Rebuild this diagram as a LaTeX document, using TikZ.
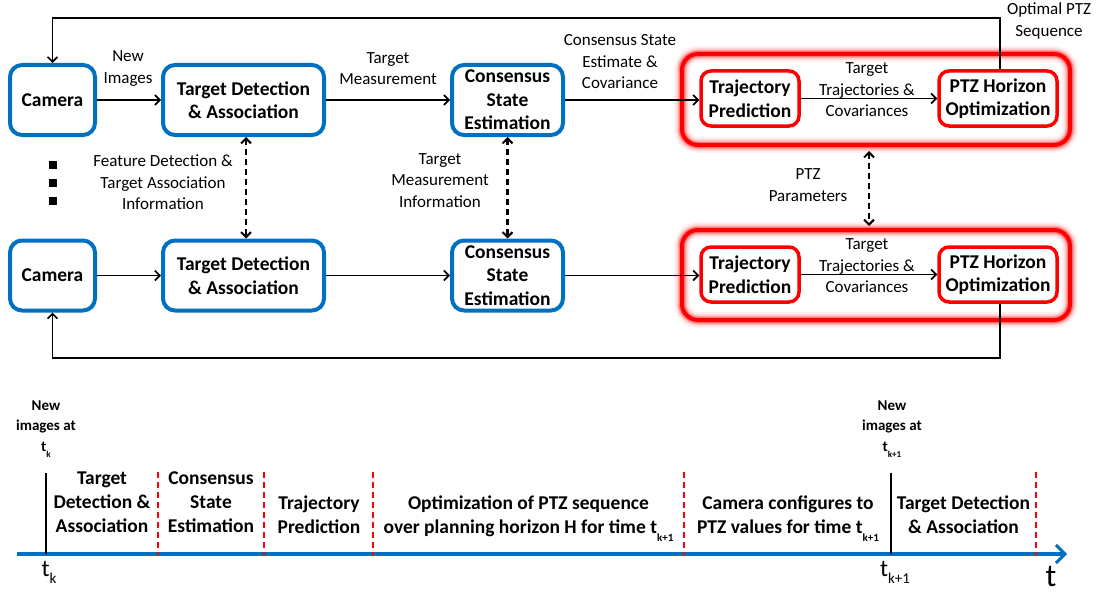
\documentclass[tikz,border=0pt]{standalone}
\usepackage{fontspec}
\setmainfont{Carlito}
\usetikzlibrary{arrows.meta,calc}
\definecolor{myblue}{RGB}{0,112,192}
\definecolor{myred}{RGB}{255,0,0}
\newcommand{\lsub}[1]{\raisebox{-0.4em}{\fontsize{11}{11}\selectfont #1}}
\newcommand{\nsub}[1]{\raisebox{-0.4em}{\fontsize{9}{9}\selectfont #1}}
\begin{document}
\begin{tikzpicture}[x=1pt,y=-1pt,
  bluebox/.style={draw=myblue, line width=4pt, rounded corners=12pt, fill=white, inner sep=1pt, align=center, font=\fontsize{19.5}{23.5}\selectfont\bfseries},
  redbox/.style={draw=myred, line width=3.5pt, rounded corners=10pt, fill=white, inner sep=1pt, align=center, font=\fontsize{19.5}{23.5}\selectfont\bfseries},
  groupbox/.style={draw=myred, line width=4pt, rounded corners=16pt, inner sep=0pt,
    preaction={draw=myred, line width=16pt, opacity=0.06},
    preaction={draw=myred, line width=12pt, opacity=0.1},
    preaction={draw=myred, line width=9pt, opacity=0.18},
    preaction={draw=myred, line width=6.5pt, opacity=0.3}},
  lbl/.style={align=center, inner sep=0pt, font=\fontsize{17}{21.5}\selectfont},
  arr/.style={-{Straight Barb[length=5pt,width=10pt,line width=1.6pt]}, line width=1.6pt},
  darr/.style={{Straight Barb[length=5pt,width=10pt,line width=2pt]}-{Straight Barb[length=5pt,width=10pt,line width=2pt]}, line width=2.2pt, dash pattern=on 6pt off 4pt},
  sq/.style={fill=black, inner sep=0pt, minimum size=8pt},
  tlbl/.style={align=center, inner sep=0pt, font=\fontsize{19.5}{24}\selectfont\bfseries},
  newlbl/.style={align=center, inner sep=0pt, font=\fontsize{15}{20.5}\selectfont\bfseries},
  axis/.style={draw=myblue, line width=4pt, -{Straight Barb[length=9pt,width=18pt,line width=3pt]}},
  tickline/.style={line width=2pt, black},
  reddash/.style={draw=myred, line width=2pt, dash pattern=on 6pt off 4pt},
]
\path[use as bounding box] (0,0) rectangle (1106,594);

% ---------- top row ----------
\node[groupbox, minimum width=388pt, minimum height=91pt] (grpA) at (876,99.5) {};
\node[bluebox, minimum width=85pt, minimum height=70pt] (camA) at (52.5,100) {Camera};
\node[bluebox, minimum width=161pt, minimum height=70pt] (tdA) at (243.5,100) {Target Detection\\\& Association};
\node[bluebox, minimum width=111pt, minimum height=70pt] (csA) at (507.5,100) {Consensus\\State\\Estimation};
\node[redbox, minimum width=98pt, minimum height=55pt] (trA) at (750,98.5) {Trajectory\\Prediction};
\node[redbox, minimum width=118pt, minimum height=55pt] (ptzA) at (998,98.5) {PTZ Horizon\\Optimization};

% ---------- bottom row ----------
\node[groupbox, minimum width=388pt, minimum height=90pt] (grpB) at (876,275) {};
\node[bluebox, minimum width=85pt, minimum height=70pt] (camB) at (52.5,275.5) {Camera};
\node[bluebox, minimum width=161pt, minimum height=70pt] (tdB) at (243.5,275.5) {Target Detection\\\& Association};
\node[bluebox, minimum width=111pt, minimum height=70pt] (csB) at (507.5,275.5) {Consensus\\State\\Estimation};
\node[redbox, minimum width=98pt, minimum height=55pt] (trB) at (750,274.5) {Trajectory\\Prediction};
\node[redbox, minimum width=118pt, minimum height=55pt] (ptzB) at (998,274.5) {PTZ Horizon\\Optimization};

% ---------- connectors ----------
\draw[arr] (camA) -- (tdA);
\draw[arr] (tdA) -- (csA);
\draw[arr] (csA.east) -- (csA.east -| trA.west);
\draw[arr] (trA) -- (ptzA);
\draw[arr] (camB) -- (tdB);
\draw[arr] (tdB) -- (csB);
\draw[arr] (csB.east) -- (csB.east -| trB.west);
\draw[arr] (trB) -- (ptzB);

\coordinate (topline) at (0,18);
\coordinate (botline) at (0,358);
\draw[arr] ([xshift=2pt]ptzA.north) -- ([xshift=2pt]ptzA.north |- topline) -| (camA.north);
\draw[arr] ([xshift=2pt]ptzB.south) -- ([xshift=2pt]ptzB.south |- botline) -| (camB.south);

\draw[darr] ([xshift=2.5pt]tdA.south) -- ([xshift=2.5pt]tdB.north);
\draw[darr] (csA.south) -- (csB.north);
\draw[darr, shorten <=4pt, shorten >=2pt] ([xshift=-7pt]grpA.south) -- ([xshift=-7pt]grpB.north);

% ---------- labels ----------
\node[lbl] (lNew) at (128,68.5) {New\\Images};
\node[lbl] (lTM) at (388,68.5) {Target\\Measurement};
\node[lbl] (lCS) at (620,62) {Consensus State\\Estimate \&\\Covariance};
\node[lbl] (lTTa) at (867,90) {Target\\Trajectories \&\\Covariances};
\node[lbl] (lTTb) at (867,266) {Target\\Trajectories \&\\Covariances};
\node[lbl] (lOpt) at (1049,21) {Optimal PTZ\\Sequence};
\node[lbl] (lPTZ) at (808,185) {PTZ\\Parameters};
\node[lbl] (lFD) at (163,182.5) {Feature Detection \&\\Target Association\\Information};
\node[lbl] (lTMI) at (440,180.5) {Target\\Measurement\\Information};

\node[sq] (d1) at (53,165) {};
\node[sq] (d2) at (53,183) {};
\node[sq] (d3) at (53,201) {};

% ---------- timeline ----------
\coordinate (ax0) at (17,554);
\coordinate (ax1) at (1067,554);
\coordinate (tk) at (46,554);
\coordinate (tk1) at (891,554);
\draw[axis] (ax0) -- (ax1);
\draw[tickline] (tk) -- ++(0,-81);
\draw[tickline] (tk1) -- ++(0,-81);
\foreach \x in {158,264,373,684,1036} {
  \draw[reddash] (\x,472) -- (\x,555);
}

\node[newlbl] (nA) at (46,429) {New\\images at\\t\nsub{k}};
\node[newlbl] (nB) at (892,429) {New\\images at\\t\nsub{k+1}};

\node[tlbl] (p1) at (102,502) {Target\\Detection \&\\Association};
\node[tlbl] (p2) at (211,502) {Consensus\\State\\Estimation};
\node[tlbl] (p3) at (319,515) {Trajectory\\Prediction};
\node[tlbl] (p4) at (528.5,518.5) {Optimization of PTZ sequence\\over planning horizon H for time t\lsub{k+1}};
\node[tlbl] (p5) at (788,518.5) {Camera configures to\\PTZ values for time t\lsub{k+1}};
\node[tlbl] (p6) at (963.5,515) {Target Detection\\\& Association};

\node[inner sep=0pt, font=\fontsize{24}{24}\selectfont] (ltk) at (49,572) {t\raisebox{-7pt}{\fontsize{15}{15}\selectfont k}};
\node[inner sep=0pt, font=\fontsize{24}{24}\selectfont] (ltk1) at (895,572) {t\raisebox{-7pt}{\fontsize{15}{15}\selectfont k+1}};
\node[inner sep=0pt, font=\fontsize{32}{32}\selectfont] (lt) at (1051,576) {t};
\end{tikzpicture}
\end{document}
